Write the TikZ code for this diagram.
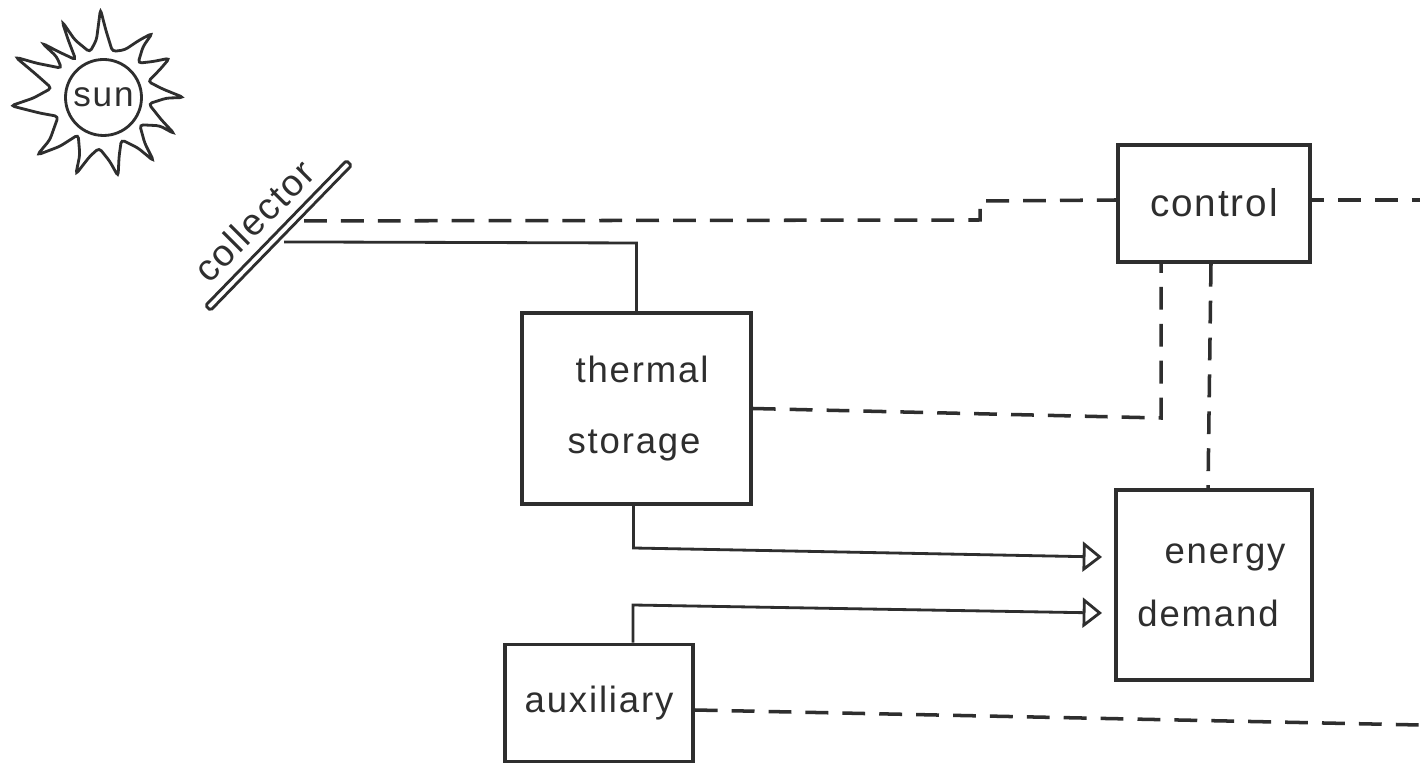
\documentclass[tikz,border=0pt]{standalone}
\usepackage{fontspec}
\setmainfont[LetterSpace=5]{Liberation Sans}
\usetikzlibrary{arrows.meta}
\colorlet{inkgray}{black!82}
\tikzset{
    box/.style={rectangle, draw=inkgray, line width=1pt, text=inkgray, align=center, inner sep=0pt, font=\fontsize{10.4}{13}\selectfont},
    flow/.style={draw=inkgray, line width=.8pt},
    signal/.style={draw=inkgray, line width=1pt, dash pattern=on 6.5pt off 4pt},
    tip/.style={-{Triangle[open, length=5.5pt, width=8.5pt, line width=.8pt]}},
}

\begin{document}
\begin{tikzpicture}[node distance=1cm, x=1cm, y=-1cm]
    \useasboundingbox (0,0) rectangle (14.2,7.63);
    \fill[white] (0,0) rectangle (14.2,7.63);
    % boxes
    \node[box, minimum width=1.92cm, minimum height=1.17cm, font=\fontsize{11}{13}\selectfont] (control) at (12.14,2.035) {\raisebox{.02cm}{control}};
    \node[box, minimum width=1.96cm, minimum height=1.9cm, below of=control, yshift=-2.815cm] (demand) {\hspace*{.22cm}energy\\[5pt]demand\hspace*{.12cm}};
    \node[box, minimum width=2.29cm, minimum height=1.91cm, left of=control, xshift=-4.775cm, yshift=-2.05cm] (storage) {\hspace*{.11cm}thermal\\[7pt]storage\hspace*{.05cm}};
    \node[box, minimum width=1.88cm, minimum height=1.17cm, below of=storage, xshift=-.375cm, yshift=-1.945cm] (auxiliary) {\raisebox{-.05cm}{auxiliary}};
    % sun
    \node[circle, draw=inkgray, line width=.8pt, minimum size=.76cm, inner sep=0pt, text=inkgray, font=\fontsize{10}{12}\selectfont] (sun) at (1.035,.975) {sun};
    \draw[draw=inkgray, line width=.8pt, rounded corners=1pt, scale=.00333]
        (302,28) -- (318,90) -- (338,155) -- (375,150) -- (420,120) -- (458,100) -- (430,140) -- (415,190)
        -- (460,185) -- (510,175) -- (480,210) -- (445,245) -- (490,268) -- (552,293) -- (500,295) -- (447,312)
        -- (485,360) -- (524,402) -- (480,378) -- (420,375) -- (435,430) -- (462,484) -- (415,445) -- (365,420)
        -- (358,470) -- (355,530) -- (330,485) -- (298,445) -- (270,470) -- (228,524) -- (240,465) -- (235,405)
        -- (180,440) -- (112,466) -- (150,420) -- (175,350) -- (120,340) -- (33,318) -- (100,295) -- (155,265)
        -- (110,225) -- (47,172) -- (110,190) -- (185,205) -- (170,170) -- (127,130) -- (175,155) -- (228,180)
        -- (205,120) -- (187,65) -- (225,120) -- (270,157) -- (290,120) -- cycle;
    % collector
    \node[rectangle, draw=inkgray, line width=.8pt, rounded corners=.5pt, rotate=45.8, minimum width=2.02cm, minimum height=.07cm, inner sep=0pt] (collector) at (2.785,2.355) {};
    \node[rotate=45, text=inkgray, inner sep=0pt, font=\fontsize{10.6}{13}\selectfont] (collectorname) at (2.54,2.21) {collector};
    % free ends and bends
    \coordinate (step) at (9.8,2.2);
    \coordinate (rightend) at (14.2,2);
    \coordinate (lowend) at (14.2,7.25);
    \coordinate (tipa) at (11.02,5.57);
    \coordinate (tipb) at (11.02,6.13);
    % solid lines
    \draw[flow] ([shift={(.02,.03)}]collector.south) -- (6.365,2.43) -- (storage.north);
    \draw[flow, tip] ([xshift=-.03cm]storage.south) -- (6.335,5.48) -- (tipa);
    \draw[flow, tip] ([xshift=.34cm]auxiliary.north) -- (6.33,6.05) -- (tipb);
    % dashed lines
    \draw[signal] ([shift={(.22,-.18)}]collector.south) -- (step) -- (9.8,2.01) -- (control.west |- rightend);
    \draw[signal, dash phase=3pt] (control.east |- rightend) -- (rightend);
    \draw[signal] (storage.east) -- (11.61,4.18) -- ([xshift=-.53cm]control.south);
    \draw[signal] ([xshift=-.03cm]control.south) -- ([xshift=-.06cm]demand.north);
    \draw[signal] ([yshift=-.07cm]auxiliary.east) -- (lowend);
\end{tikzpicture}
\end{document}
